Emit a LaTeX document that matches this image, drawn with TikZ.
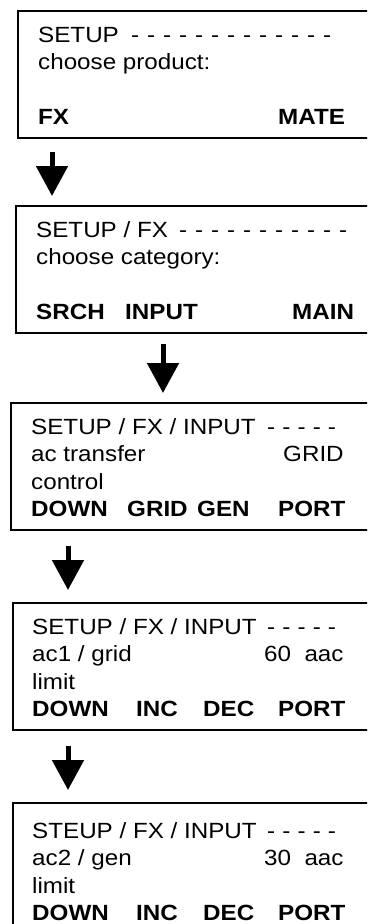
\documentclass[tikz,border=0pt]{standalone}
\usepackage{fontspec}
\setmainfont{Liberation Sans}[FakeStretch=1.1]
\usetikzlibrary{arrows.meta}
\newcommand\dashrow[2]{\foreach \i in {1,...,#1}{\makebox[#2][l]{-}}}
\tikzset{
  box/.style={draw, line width=2pt, anchor=north west, inner sep=0pt,
              minimum width=420pt, minimum height=127pt},
  txt/.style={anchor=base west, inner sep=0pt, font=\fontsize{22}{26}\selectfont},
  btxt/.style={txt, font=\fontsize{22}{26}\selectfont\bfseries},
  arr/.style={line width=5pt, -{Triangle[width=31pt,length=30pt]}}
}
\begin{document}
\begin{tikzpicture}[x=1pt,y=-1pt]
\useasboundingbox (0,0) rectangle (367,924);
\clip (0,0) rectangle (367,924);
% boxes
\node[box] (b1) at (17,10) {};
\node[box] (b2) at (15,205) {};
\node[box] (b3) at (10,402) {};
\node[box] (b4) at (12,602) {};
\node[box] (b5) at (12,802) {};
% box 1
\node[txt] (t1a) at (38,42) {SETUP};
\node[txt] (t1d) at (131,42) {\dashrow{13}{16pt}};
\node[txt] (t1b) at (38,69.5) {choose product:};
\node[btxt] (t1c) at (38,124.5) {FX};
\node[btxt] (t1e) at (278,124.5) {MATE};
% box 2
\node[txt] (t2a) at (36,237) {SETUP / FX};
\node[txt] (t2d) at (179,237) {\dashrow{11}{16pt}};
\node[txt] (t2b) at (36,264.5) {choose category:};
\node[btxt] (t2c) at (36,319.5) {SRCH};
\node[btxt] (t2e) at (125,319.5) {INPUT};
\node[btxt] (t2f) at (292,319.5) {MAIN};
% box 3
\node[txt] (t3a) at (31,434) {SETUP / FX / INPUT};
\node[txt] (t3d) at (267,434) {\dashrow{5}{15.2pt}};
\node[txt] (t3b) at (31,461.5) {ac transfer};
\node[txt] (t3g) at (283,461.5) {GRID};
\node[txt] (t3h) at (31,489) {control};
\node[btxt] (t3c) at (31,516.5) {DOWN};
\node[btxt] (t3e) at (127,516.5) {GRID};
\node[btxt] (t3f) at (197,516.5) {GEN};
\node[btxt] (t3i) at (278,516.5) {PORT};
% box 4
\node[txt] (t4a) at (32,634) {SETUP / FX / INPUT};
\node[txt] (t4d) at (267,634) {\dashrow{5}{15.2pt}};
\node[txt] (t4b) at (32,661.5) {ac1 / grid};
\node[txt] (t4g) at (264,661.5) {60\ \ aac};
\node[txt] (t4h) at (32,689) {limit};
\node[btxt] (t4c) at (32,716.5) {DOWN};
\node[btxt] (t4e) at (136,716.5) {INC};
\node[btxt] (t4f) at (203,716.5) {DEC};
\node[btxt] (t4i) at (278,716.5) {PORT};
% box 5
\node[txt] (t5a) at (32,838) {STEUP / FX / INPUT};
\node[txt] (t5d) at (267,838) {\dashrow{5}{15.2pt}};
\node[txt] (t5b) at (32,865.5) {ac2 / gen};
\node[txt] (t5g) at (264,865.5) {30\ \ aac};
\node[txt] (t5h) at (32,893) {limit};
\node[btxt] (t5c) at (32,920.5) {DOWN};
\node[btxt] (t5e) at (136,920.5) {INC};
\node[btxt] (t5f) at (203,920.5) {DEC};
\node[btxt] (t5i) at (278,920.5) {PORT};
% arrows
\draw[arr] ([xshift=35pt,yshift=-13pt]b1.south west) -- ([xshift=37pt,yshift=9pt]b2.north west);
\draw[arr] ([xshift=148pt,yshift=-10pt]b2.south west) -- ([xshift=153pt,yshift=9pt]b3.north west);
\draw[arr] ([xshift=58pt,yshift=-15pt]b3.south west) -- ([xshift=56pt,yshift=12pt]b4.north west);
\draw[arr] ([xshift=56pt,yshift=-15pt]b4.south west) -- ([xshift=56pt,yshift=12pt]b5.north west);
\end{tikzpicture}
\end{document}
